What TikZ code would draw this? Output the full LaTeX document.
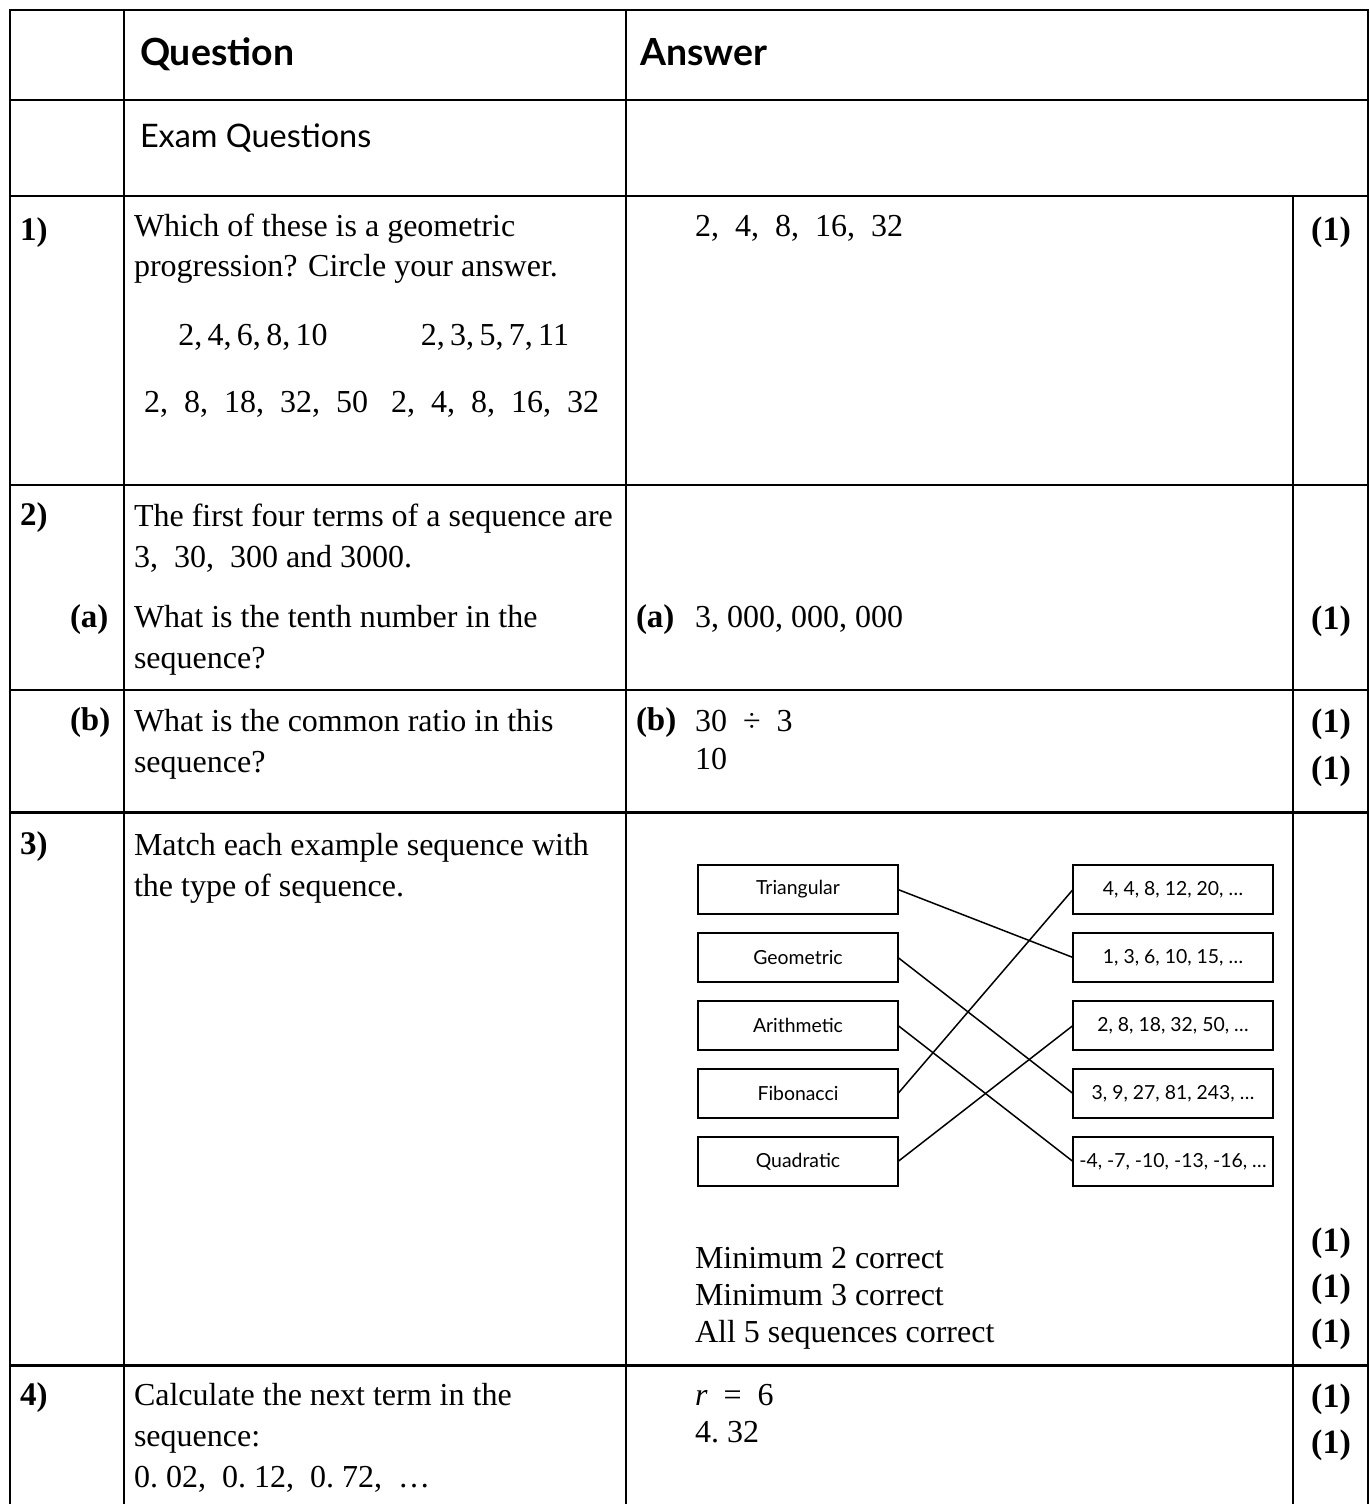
\documentclass[tikz,border=0pt]{standalone}
\usepackage{fontspec}
\setmainfont{Liberation Serif}
\newfontfamily\headfont{Lato}
\usetikzlibrary{positioning}

\begin{document}
\begin{tikzpicture}[
        x=0.5pt, y=-0.5pt,
        every node/.style={inner sep=0pt, outer sep=0pt},
        tableline/.style={line width=1.1pt},
        thickline/.style={line width=1.5pt},
        % multi-line nodes sit on the baseline of their last line
        body/.style={anchor=base west, align=left, font=\fontsize{16}{20.5}\selectfont},
        numtext/.style={anchor=base, font=\fontsize{16}{20}\selectfont},
        marks/.style={anchor=base, font=\fontsize{17}{20}\selectfont\bfseries},
        qnum/.style={anchor=base west, font=\fontsize{16.5}{20}\selectfont\bfseries},
        head/.style={anchor=base west, font=\headfont\fontsize{18.7}{22}\selectfont\bfseries},
        seqbox/.style={draw, line width=1pt, minimum width=100pt, minimum height=24.5pt,
            font=\headfont\fontsize{9.7}{11}\selectfont},
        match/.style={line width=0.75pt}
    ]
        \useasboundingbox (0,0) rectangle (1370,1504);

        % table rules
        \draw[tableline] (10,1504) -- (10,10) -- (1368,10) -- (1368,1504);
        \draw[tableline] (124,10) -- (124,1504);
        \draw[tableline] (626,10) -- (626,1504);
        \draw[tableline] (1293,196) -- (1293,1504);
        \draw[tableline] (10,100) -- (1368,100);
        \draw[tableline] (10,196) -- (1368,196);
        \draw[tableline] (10,485) -- (1368,485);
        \draw[tableline] (10,690) -- (1368,690);
        \draw[thickline] (10,812) -- (1368,812);
        \draw[thickline] (10,1365) -- (1368,1365);

        % header
        \node[head] (hq) at (140,66) {Question};
        \node[head] (ha) at (640,66) {Answer};
        \node[head, font=\headfont\fontsize{16.2}{18}\selectfont] (exam) at (140,148) {Exam Questions};

        % question 1
        \node[qnum] (n1) at (20,240) {1)};
        \node[body, font=\fontsize{16}{20}\selectfont] (q1) at (134,276) {Which of these is a geometric\\progression? Circle your answer.};
        \node[numtext] (s1) at (253,345) {2,\,4,\,6,\,8,\,10};
        \node[numtext] (s2) at (495,345) {2,\,3,\,5,\,7,\,11};
        \node[numtext] (s3) at (256,412) {2,\ \ 8,\ \ 18,\ \ 32,\ \ 50};
        \node[numtext] (s4) at (495,412) {2,\ \ 4,\ \ 8,\ \ 16,\ \ 32};
        \node[body] (a1) at (695,236) {2,\ \ 4,\ \ 8,\ \ 16,\ \ 32};
        \node[marks] (m1) at (1331,240) {(1)};

        % question 2
        \node[qnum] (n2) at (20,525) {2)};
        \node[body] (q2) at (134,567) {The first four terms of a sequence are\\3,\ \ 30,\ \ 300 and 3000.};
        \node[qnum] (n2a) at (70,627) {(a)};
        \node[body] (q2a) at (134,668) {What is the tenth number in the\\sequence?};
        \node[qnum] (l2a) at (636,627) {(a)};
        \node[body] (a2a) at (695,627) {3,\ 000,\ 000,\ 000};
        \node[marks] (m2a) at (1331,629) {(1)};
        \node[qnum] (n2b) at (70,730) {(b)};
        \node[body] (q2b) at (134,772) {What is the common ratio in this\\sequence?};
        \node[qnum] (l2b) at (636,730) {(b)};
        \node[body, font=\fontsize{16}{19}\selectfont] (a2b) at (695,769) {30\ \ ÷\ \ 3\\10};
        \node[marks] (m2b) at (1331,732) {(1)};
        \node[marks] (m2c) at (1331,779) {(1)};

        % question 3
        \node[qnum] (n3) at (20,854) {3)};
        \node[body] (q3) at (134,896) {Match each example sequence with\\the type of sequence.};

        \node[seqbox] (tri) at (798,889.5) {Triangular};
        \node[seqbox, below=9.5pt of tri] (geo) {Geometric};
        \node[seqbox, below=9.5pt of geo] (ari) {Arithmetic};
        \node[seqbox, below=9.5pt of ari] (fib) {Fibonacci};
        \node[seqbox, below=9.5pt of fib] (quad) {Quadratic};
        \node[seqbox, right=87.5pt of tri] (sfour) {4, 4, 8, 12, 20, …};
        \node[seqbox, right=87.5pt of geo] (sone) {1, 3, 6, 10, 15, …};
        \node[seqbox, right=87.5pt of ari] (stwo) {2, 8, 18, 32, 50, …};
        \node[seqbox, right=87.5pt of fib] (sthree) {3, 9, 27, 81, 243, …};
        \node[seqbox, right=87.5pt of quad] (sneg) {-4, -7, -10, -13, -16, …};

        \draw[match] (tri.east) -- (sone.west);
        \draw[match] (geo.east) -- (sthree.west);
        \draw[match] (ari.east) -- (sneg.west);
        \draw[match] (fib.east) -- (sfour.west);
        \draw[match] (quad.east) -- (stwo.west);

        \node[body, font=\fontsize{16}{18.3}\selectfont] (a3) at (695,1342) {Minimum 2 correct\\Minimum 3 correct\\All 5 sequences correct};
        \node[marks] (m3a) at (1331,1251) {(1)};
        \node[marks] (m3b) at (1331,1297) {(1)};
        \node[marks] (m3c) at (1331,1342) {(1)};

        % question 4
        \node[qnum] (n4) at (20,1405) {4)};
        \node[body] (q4) at (134,1487) {Calculate the next term in the\\sequence:\\0.\ 02,\ \ 0.\ 12,\ \ 0.\ 72,\ \ …};
        \node[body, font=\fontsize{16}{18.5}\selectfont] (a4) at (695,1442) {\textit{r}\ \ =\ \ 6\\4.\ 32};
        \node[marks] (m4a) at (1331,1407) {(1)};
        \node[marks] (m4b) at (1331,1453) {(1)};
    \end{tikzpicture}
\end{document}
